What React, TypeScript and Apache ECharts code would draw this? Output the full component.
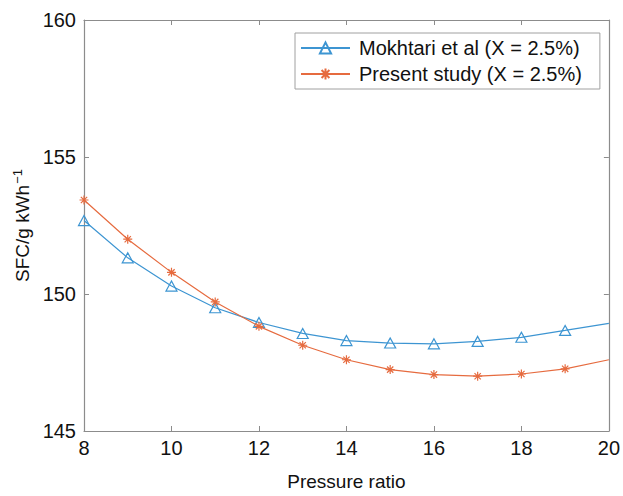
import React, { useEffect, useRef } from "react";
import * as echarts from "echarts";

const pressureRatio = [8, 9, 10, 11, 12, 13, 14, 15, 16, 17, 18, 19, 20];
const mokhtari = [152.68, 151.32, 150.29, 149.5, 148.96, 148.56, 148.3, 148.21, 148.18, 148.27, 148.42, 148.67, 148.93];
const present = [153.43, 152.0, 150.79, 149.71, 148.82, 148.13, 147.6, 147.24, 147.06, 147.0, 147.08, 147.27, 147.6];
const xTicks = { min: 8, max: 20, interval: 2 };
const yTicks = { min: 145, max: 160, interval: 5 };
const seriesNames = ["Mokhtari et al (X = 2.5%)", "Present study (X = 2.5%)"];

const BLUE = "#3d95d2";
const ORANGE = "#e66b3f";
const AXIS = "#8c8c8c";
const FONT = "Liberation Sans, Arial, sans-serif";

const TRI = "path://M0,-1L0.9,0.6L-0.9,0.6Z";
const STAR = "path://M0,-1L0,1M-1,0L1,0M-0.7,-0.7L0.7,0.7M-0.7,0.7L0.7,-0.7";

function build(values: number[], lastNoSymbol: boolean) {
  return pressureRatio.map((x, i) => {
    const item: any = { value: [x, values[i]] };
    if (lastNoSymbol && i === pressureRatio.length - 1) item.symbol = "none";
    return item;
  });
}

export default function App() {
  const ref = useRef<HTMLDivElement>(null);
  useEffect(() => {
    const chart = echarts.init(ref.current!, null, { renderer: "svg" });
    const baseAxis = {
      axisLine: { show: true, lineStyle: { color: AXIS, width: 1.2 } },
      axisTick: { show: true, inside: true, length: 5, lineStyle: { color: AXIS } },
      splitLine: { show: false },
    };
    chart.setOption({
      animation: false,
      grid: { left: 84, right: 8, top: 20, bottom: 57 },
      legend: {
        orient: "vertical",
        left: 295,
        top: 33,
        backgroundColor: "#fff",
        borderColor: "#a0a0a0",
        borderWidth: 1,
        borderRadius: 0,
        padding: [5, 18, 5, 5],
        itemWidth: 49,
        itemHeight: 14,
        itemGap: 6,
        textStyle: { fontSize: 20, color: "#111", fontFamily: FONT, padding: [0, 0, 0, 4] },
        data: seriesNames,
      },
      xAxis: [
        {
          ...baseAxis,
          type: "value",
          ...xTicks,
          name: "Pressure ratio",
          nameLocation: "middle",
          nameGap: 41,
          nameTextStyle: { fontSize: 19, color: "#111", fontFamily: FONT },
          axisLabel: { fontSize: 20, color: "#111", fontFamily: FONT, margin: 7 },
        },
        {
          ...baseAxis,
          type: "value",
          position: "top",
          ...xTicks,
          axisLabel: { show: false },
        },
      ],
      yAxis: [
        {
          ...baseAxis,
          type: "value",
          ...yTicks,
          name: "{a|SFC/g kWh}{b|−1}",
          nameLocation: "middle",
          nameGap: 49,
          nameTextStyle: {
            rich: {
              a: { fontSize: 19, color: "#111", fontFamily: FONT },
              b: { fontSize: 13, color: "#111", fontFamily: FONT, verticalAlign: "top", padding: [0, 0, 9, 1] },
            },
          },
          axisLabel: { fontSize: 20, color: "#111", fontFamily: FONT, margin: 8 },
        },
        {
          ...baseAxis,
          type: "value",
          position: "right",
          ...yTicks,
          axisLabel: { show: false },
        },
      ],
      series: [
        {
          name: seriesNames[0],
          type: "line",
          data: build(mokhtari, true),
          symbol: TRI,
          symbolSize: [11, 10],
          showAllSymbol: true,
          lineStyle: { color: BLUE, width: 1.2 },
          itemStyle: { color: "rgba(0,0,0,0)", borderColor: BLUE, borderWidth: 1.2 },
          color: BLUE,
          z: 3,
        },
        {
          name: seriesNames[1],
          type: "line",
          data: build(present, true),
          symbol: STAR,
          symbolSize: 9,
          showAllSymbol: true,
          lineStyle: { color: ORANGE, width: 1.2 },
          itemStyle: { color: "rgba(0,0,0,0)", borderColor: ORANGE, borderWidth: 1.2 },
          color: ORANGE,
          z: 4,
        },
      ],
    });
    return () => chart.dispose();
  }, []);
  return <div ref={ref} style={{ width: 623, height: 496, position: "absolute", left: 0, top: 0, background: "#fff" }} />;
}
